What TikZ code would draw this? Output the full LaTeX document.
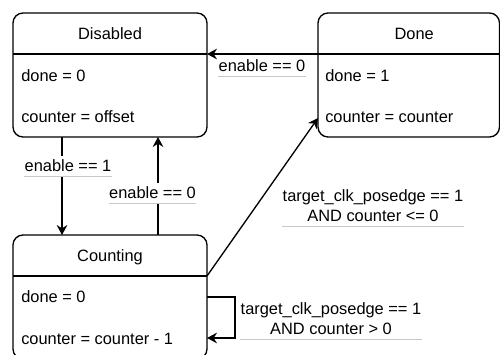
\documentclass[tikz,border=0pt]{standalone}
\usepackage{fontspec}
\setmainfont{Liberation Sans}
\usepackage{tikz}
\usetikzlibrary{arrows.meta, positioning, calc}
\definecolor{guardgrey}{RGB}{200, 200, 200}

\tikzset{
  statebox/.style={draw, line width=1pt, rounded corners=7.5pt, inner sep=0pt, outer sep=0pt, minimum height=93pt},
  statetitle/.style={anchor=base, inner sep=0pt},
  stateline/.style={anchor=base west, inner sep=0pt},
  trans/.style={line width=1pt, -{Stealth[length=7.5pt, width=8pt, inset=2.5pt]}},
  guard/.style={anchor=south, fill=white, inner xsep=0pt, inner ysep=3pt, text depth=0pt, align=center,
    append after command={(\tikzlastnode.south west) edge[draw=guardgrey, line width=0.6pt] (\tikzlastnode.south east)}}
}

\begin{document}
\begin{tikzpicture}[x=0.75pt, y=-0.75pt, font=\fontsize{12.3}{15}\selectfont]
  \useasboundingbox (0,0) rectangle (500,354);
  % states
  \node[statebox, minimum width=145.5pt] (disabled) at (110,75) {};
  \node[statebox, minimum width=136.1pt] (done) at (408.75,75) {};
  \node[statebox, minimum width=145.5pt] (counting) at (110,297) {};
  \foreach \s in {disabled, done, counting}
    \draw[line width=1pt] ($(\s.north west)+(0,41)$) -- ($(\s.north east)+(0,41)$);
  \node[statetitle] (disabled-title) at ($(disabled.north)+(0,26.5)$) {Disabled};
  \node[stateline] (disabled-l1) at ($(disabled.north west)+(8,68)$) {done = 0};
  \node[stateline] (disabled-l2) at ($(disabled.north west)+(8,109)$) {counter = offset};
  \node[statetitle] (done-title) at ($(done.north)+(5.5,26.5)$) {Done};
  \node[stateline] (done-l1) at ($(done.north west)+(7,68)$) {done = 1};
  \node[stateline] (done-l2) at ($(done.north west)+(7,109)$) {counter = counter};
  \node[statetitle] (counting-title) at ($(counting.north)+(0,26.5)$) {Counting};
  \node[stateline] (counting-l1) at ($(counting.north west)+(8,67)$) {done = 0};
  \node[stateline] (counting-l2) at ($(counting.north west)+(8,109.5)$) {counter = counter - 1};
  % transitions
  \draw[trans] ($(done.north west)+(0,41)$) -- ($(disabled.north east)+(0,41)$);
  \draw[trans] ($(disabled.south)+(-48,0)$) -- ($(counting.north)+(-48,0)$);
  \draw[trans] ($(counting.north)+(48,0)$) -- ($(disabled.south)+(48,0)$);
  \draw[trans] ($(counting.north east)+(0,41)$) -- ($(done.south west)+(0,-19)$);
  \draw[trans] (counting.east) -- ++(28,0) |- ($(counting.east)+(0,41)$);
  % guards
  \node[guard] (g-disable) at (262,76) {enable == 0};
  \node[guard] (g-enable) at (68,176) {enable == 1};
  \node[guard] (g-stop) at (152.5,203) {enable == 0};
  \node[guard] (g-finish) at (373,226) {target\_clk\_posedge == 1\\AND counter <= 0};
  \node[guard] (g-tick) at (331,339) {target\_clk\_posedge == 1\\AND counter > 0};
\end{tikzpicture}
\end{document}
